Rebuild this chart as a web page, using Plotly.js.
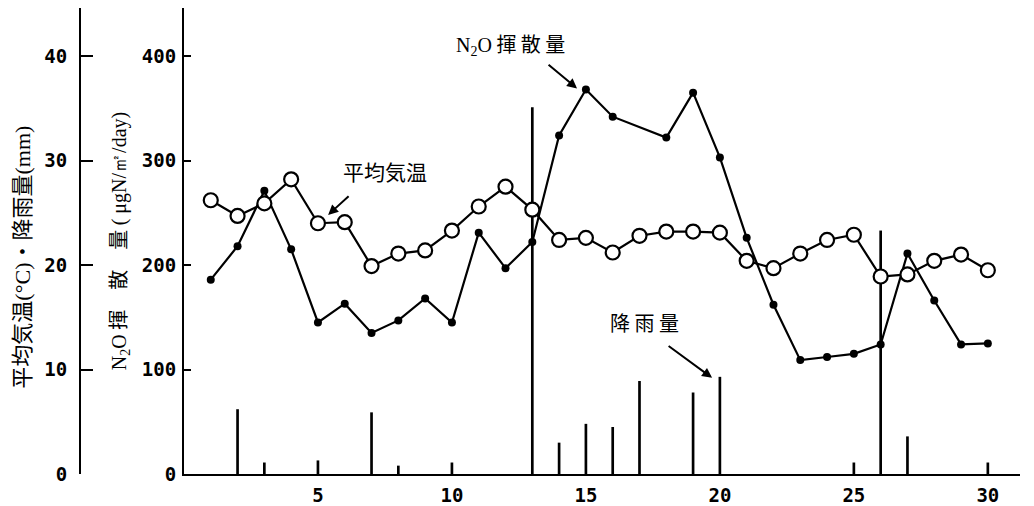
<!DOCTYPE html>
<html><head><meta charset="utf-8">
<script src="https://cdn.plot.ly/plotly-3.0.1.min.js"></script>
<style>html,body{margin:0;padding:0;background:#fff}#chart{width:1034px;height:506px}</style>
</head><body><div id="chart"></div>
<script>
const days = [1,2,3,4,5,6,7,8,9,10,11,12,13,14,15,16,17,18,19,20,21,22,23,24,25,26,27,28,29,30];
const n2o = [186,218,271,215,145,163,135,147,168,145,231,197,222,324,368,342,null,322,365,303,226,162,109,112,115,124,211,166,124,125];
const temp = [26.2,24.7,25.9,28.2,24.0,24.1,19.9,21.1,21.4,23.3,25.6,27.5,25.3,22.4,22.6,21.2,22.8,23.2,23.2,23.1,20.4,19.7,21.1,22.4,22.9,18.9,19.1,20.4,21.0,19.5];
const rainDays = [2,3,5,7,8,10,13,14,15,16,17,19,20,25,26,27,30];
const rain = [6.2,1.1,1.3,5.9,0.8,1.1,35.1,3.0,4.8,4.5,8.9,7.8,9.3,1.1,23.3,3.6,1.1];
const xTicks = [5,10,15,20,25,30];
const n2oTicks = [0,100,200,300,400];
const leftTicks = [0,10,20,30,40];

const tickFont = {family:'DejaVu Sans Mono', size:19, color:'#000', weight:'bold'};
const cjk = 'Noto Sans CJK JP';
const serif = s => '<span style="font-family:Liberation Serif">' + s + '</span>';

const traces = [
  {x:rainDays, y:rain, type:'bar', yaxis:'y2', width:0.1, marker:{color:'#000'}, name:'降雨量'},
  {x:days, y:n2o, type:'scatter', mode:'lines+markers', yaxis:'y', connectgaps:true,
   line:{color:'#000', width:2.2}, marker:{color:'#000', size:8, symbol:'circle'}, name:'N2O揮散量'},
  {x:days, y:temp, type:'scatter', mode:'lines+markers', yaxis:'y2',
   line:{color:'#000', width:2.2}, marker:{color:'#fff', size:14, symbol:'circle', line:{color:'#000', width:2.2}}, name:'平均気温'}
];

const layout = {
  width:1034, height:506,
  margin:{l:80, r:14, t:8, b:32},
  paper_bgcolor:'#fff', plot_bgcolor:'rgba(0,0,0,0)',
  showlegend:false,
  xaxis:{domain:[0.1106,1], range:[0,31.2], tickvals:xTicks, ticks:'', showline:true, linecolor:'#000', linewidth:2,
         showgrid:false, zeroline:false, tickfont:tickFont, anchor:'y', ticklabelstandoff:3},
  yaxis:{range:[0,446], tickvals:n2oTicks, ticks:'inside', ticklen:7, tickwidth:2, tickcolor:'#000',
         showline:true, linecolor:'#000', linewidth:2, showgrid:false, zeroline:false, tickfont:tickFont, anchor:'x',
         ticklabelstandoff:2,
         title:{text:serif('N<sub>2</sub>O') + ' 揮　散　量 ' + serif('( μgN/㎡/day)'), font:{family:cjk, size:20, color:'#000'}, standoff:10}},
  yaxis2:{range:[0,44.6], tickvals:leftTicks, overlaying:'y', anchor:'free', position:0, side:'left',
          ticks:'inside', ticklen:12, tickwidth:2, tickcolor:'#000', showline:true, linecolor:'#000', linewidth:2,
          showgrid:false, zeroline:false, tickfont:tickFont, ticklabelstandoff:8},
  annotations:[
    {x:-0.064, y:0.466, xref:'paper', yref:'paper', xanchor:'center', yanchor:'middle',
     text:'平均気温' + serif('(°C)') + '・降雨量' + serif('(mm)'), textangle:-90, showarrow:false,
     font:{family:cjk, size:22, color:'#000'}},
    {x:12.17, y:412, xref:'x', yref:'y', text:serif('N<sub>2</sub>O') + ' 揮 散 量', showarrow:false, font:{family:cjk, size:20, color:'#000'}},
    {x:14.67, y:369, xref:'x', yref:'y', text:'', showarrow:true, ax:-30, ay:-25, arrowhead:2, arrowsize:1, arrowwidth:2, arrowcolor:'#000'},
    {x:7.5, y:290, xref:'x', yref:'y', text:'平均気温', showarrow:false, font:{family:cjk, size:21, color:'#000'}},
    {x:5.38, y:248, xref:'x', yref:'y', text:'', showarrow:true, ax:22, ay:-20, arrowhead:2, arrowsize:1, arrowwidth:2, arrowcolor:'#000'},
    {x:17.2, y:145, xref:'x', yref:'y', text:'降 雨 量', showarrow:false, font:{family:cjk, size:20, color:'#000'}},
    {x:19.71, y:92, xref:'x', yref:'y', text:'', showarrow:true, ax:-45, ay:-33, arrowhead:2, arrowsize:1, arrowwidth:2, arrowcolor:'#000'}
  ]
};
Plotly.newPlot('chart', traces, layout, {staticPlot:true});
</script></body></html>
